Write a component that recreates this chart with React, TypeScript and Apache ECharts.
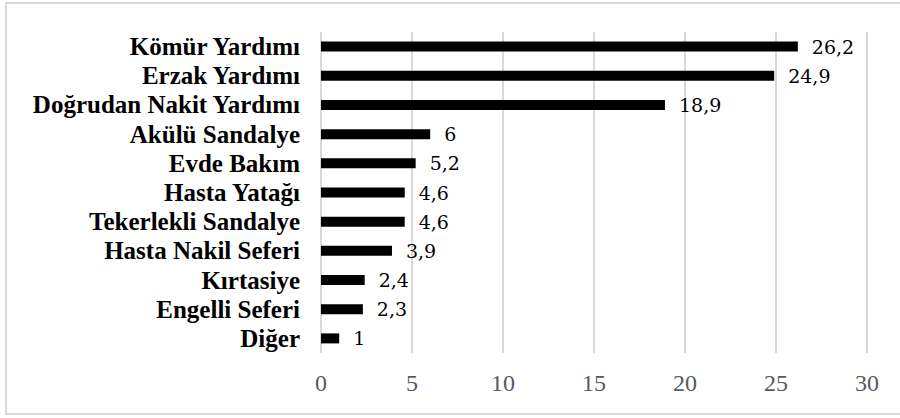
import React, { useEffect, useRef } from "react";
import * as echarts from "echarts";

const categories = [
  "Kömür Yardımı",
  "Erzak Yardımı",
  "Doğrudan Nakit Yardımı",
  "Akülü Sandalye",
  "Evde Bakım",
  "Hasta Yatağı",
  "Tekerlekli Sandalye",
  "Hasta Nakil Seferi",
  "Kırtasiye",
  "Engelli Seferi",
  "Diğer",
];
const values = [26.2, 24.9, 18.9, 6, 5.2, 4.6, 4.6, 3.9, 2.4, 2.3, 1];
const axisMin = 0;
const axisMax = 30;
const axisInterval = 5;

const SERIF = "Liberation Serif";
const VALUE_FONT = "DejaVu Serif";

export default function App() {
  const ref = useRef<HTMLDivElement>(null);
  useEffect(() => {
    if (!ref.current) return;
    const chart = echarts.init(ref.current, null, { renderer: "svg" });
    chart.setOption({
      animation: false,
      backgroundColor: "#ffffff",
      textStyle: { fontFamily: SERIF },
      graphic: [
        {
          type: "rect",
          shape: { x: 6, y: 3, width: 900, height: 411 },
          style: { fill: "none", stroke: "#d9d9d9", lineWidth: 2 },
          silent: true,
          z: 100,
        },
      ],
      grid: { left: 321, right: 33, top: 32, bottom: 65, containLabel: false },
      xAxis: {
        type: "value",
        min: axisMin,
        max: axisMax,
        interval: axisInterval,
        axisLine: { show: false },
        axisTick: { show: false },
        axisLabel: {
          color: "#595959",
          fontFamily: SERIF,
          fontSize: 24,
          margin: 18,
        },
        splitLine: { show: true, lineStyle: { color: "#d9d9d9", width: 2 } },
      },
      yAxis: {
        type: "category",
        data: categories,
        inverse: true,
        axisLine: { show: false },
        axisTick: { show: false },
        axisLabel: {
          interval: 0,
          color: "#000000",
          fontFamily: SERIF,
          fontWeight: "bold",
          fontSize: 25,
          margin: 21,
        },
      },
      series: [
        {
          type: "bar",
          data: values,
          barWidth: 10,
          itemStyle: { color: "#000000" },
          label: {
            show: true,
            position: "right",
            distance: 14,
            color: "#000000",
            fontFamily: VALUE_FONT,
            fontSize: 19,
            formatter: (p: any) => String(p.value).replace(".", ","),
          },
        },
      ],
    });
    return () => chart.dispose();
  }, []);
  return (
    <div
      ref={ref}
      style={{ position: "fixed", left: 0, top: 0, width: 900, height: 418 }}
    />
  );
}
